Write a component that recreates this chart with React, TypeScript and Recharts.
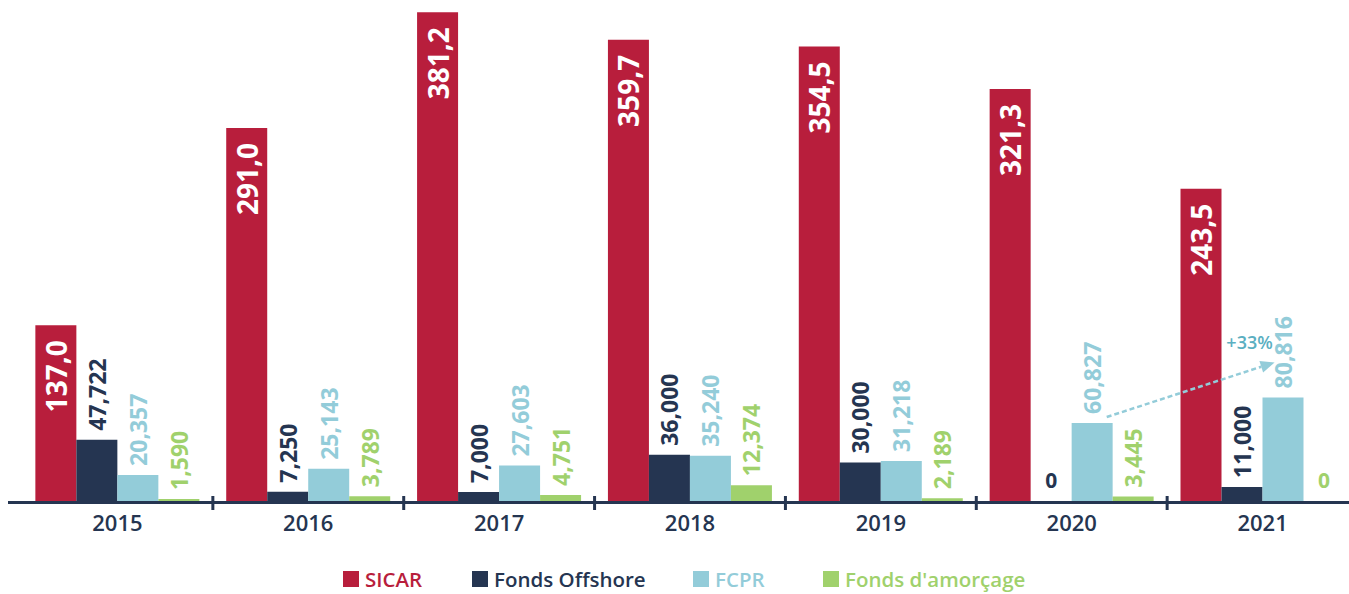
import React from 'react';
import { BarChart, Bar, XAxis, YAxis, LabelList, Legend, ReferenceLine } from 'recharts';

const years = ['2015', '2016', '2017', '2018', '2019', '2020', '2021'];
const sicar = [137.0, 291.0, 381.2, 359.7, 354.5, 321.3, 243.5];
const offshore = [47.722, 7.25, 7.0, 36.0, 30.0, 0, 11.0];
const fcpr = [20.357, 25.143, 27.603, 35.24, 31.218, 60.827, 80.816];
const amorcage = [1.59, 3.789, 4.751, 12.374, 2.189, 3.445, 0];
const seriesNames = ['SICAR', 'Fonds Offshore', 'FCPR', "Fonds d'amorçage"];
const growthLabel = '+33%';

const COLORS = ['#B81E3C', '#253551', '#93CCD9', '#A0D16C'];
const FONT = '"Open Sans", sans-serif';

const data = years.map((y, i) => ({
  year: y,
  sicar: sicar[i],
  offshore: offshore[i],
  fcpr: fcpr[i],
  amorcage: amorcage[i],
}));

const otherSeries = [offshore, fcpr, amorcage];

const CHART_W = 1358;
const MARGIN_LEFT = 8;
const PAD_LEFT = 14;
const BAND = (CHART_W - MARGIN_LEFT - PAD_LEFT) / years.length;

const fmt1 = (v: number) => v.toFixed(1).replace('.', ',');
const fmt3 = (v: number) => (v === 0 ? '0' : v.toFixed(3).replace('.', ','));

const ZeroText = ({ x, y, color }: { x: number; y: number; color: string }) => (
  <text x={x} y={y} textAnchor="middle" fill={color} fontFamily={FONT} fontWeight={700} fontSize={21}>
    0
  </text>
);

// SICAR label (inside, white) + zero-value labels of the other series in the same group
const InsideLabel = (props: any) => {
  const { x, y, width, height, value, index } = props;
  const w = Number(width);
  const cx = Number(x) + w / 2;
  const ty = Number(y) + 15;
  const base = Number(y) + Number(height);
  return (
    <g>
      <text
        x={cx}
        y={ty}
        transform={`rotate(-90, ${cx}, ${ty})`}
        textAnchor="end"
        dominantBaseline="central"
        fill="#ffffff"
        fontFamily={FONT}
        fontWeight={700}
        fontSize={28}
      >
        {fmt1(Number(value))}
      </text>
      {otherSeries.map((s, k) =>
        s[index] === 0 ? (
          <ZeroText key={k} x={Number(x) + w * (k + 1.5)} y={base - 13} color={COLORS[k + 1]} />
        ) : null
      )}
    </g>
  );
};

const makeTopLabel = (color: string) => (props: any) => {
  const { x, y, width, value } = props;
  const v = Number(value);
  const cx = Number(x) + Number(width) / 2;
  if (!v) return null;
  const ty = Number(y) - 9;
  return (
    <text
      x={cx}
      y={ty}
      transform={`rotate(-90, ${cx}, ${ty})`}
      textAnchor="start"
      dominantBaseline="central"
      fill={color}
      fontFamily={FONT}
      fontWeight={700}
      fontSize={23}
    >
      {fmt3(v)}
    </text>
  );
};

const YearTick = (props: any) => {
  const { x, y, payload, index } = props;
  const half = payload && payload.offset ? payload.offset : BAND / 2;
  return (
    <g>
      {index === 0 && (
        <line
          x1={x - half - PAD_LEFT}
          x2={x - half + BAND * years.length}
          y1={y + 1.5}
          y2={y + 1.5}
          stroke={COLORS[1]}
          strokeWidth={3}
        />
      )}
      {index > 0 && (
        <line x1={x - half} x2={x - half} y1={y - 5} y2={y + 9} stroke={COLORS[1]} strokeWidth={3} />
      )}
      <text
        x={x}
        y={y + 30}
        textAnchor="middle"
        fill={COLORS[1]}
        fontFamily={FONT}
        fontWeight={600}
        fontSize={22}
      >
        {payload.value}
      </text>
    </g>
  );
};

const GrowthArrow = (props: any) => {
  const { x1, y1, x2, y2 } = props;
  const sx = x1 + 35;
  const sy = y1 - 6;
  const tx = x2 + 12;
  const ty = y2 - 35;
  const ang = Math.atan2(ty - sy, tx - sx);
  const len = 14;
  const w = 6;
  const bx = tx - len * Math.cos(ang);
  const by = ty - len * Math.sin(ang);
  const px = -Math.sin(ang) * w;
  const py = Math.cos(ang) * w;
  return (
    <g>
      <line x1={sx} y1={sy} x2={bx} y2={by} stroke={COLORS[2]} strokeWidth={2.5} strokeDasharray="5 3" />
      <polygon points={`${tx},${ty} ${bx + px},${by + py} ${bx - px},${by - py}`} fill={COLORS[2]} />
      <text
        x={x2 - 13}
        y={y2 - 48}
        textAnchor="middle"
        fill="#5BAFC1"
        fontFamily={FONT}
        fontWeight={600}
        fontSize={18}
      >
        {growthLabel}
      </text>
    </g>
  );
};

const itemWidths = [129, 221, 130, 230];

const LegendContent = () => (
  <div style={{ display: 'flex', height: 26, alignItems: 'center', fontFamily: FONT }}>
    {seriesNames.map((n, i) => (
      <div key={n} style={{ display: 'flex', alignItems: 'center', width: itemWidths[i] }}>
        <span style={{ display: 'inline-block', width: 16, height: 16, background: COLORS[i], marginRight: 6, flexShrink: 0 }} />
        <span style={{ color: COLORS[i], fontSize: 20.5, fontWeight: 600, lineHeight: '26px', whiteSpace: 'nowrap' }}>{n}</span>
      </div>
    ))}
  </div>
);

export default function App() {
  return (
    <div style={{ position: 'absolute', left: 0, top: 0, width: 1349, height: 594, overflow: 'hidden', background: '#fff' }}>
      <BarChart
        width={CHART_W}
        height={594}
        data={data}
        margin={{ top: 1, right: 0, left: MARGIN_LEFT, bottom: 2 }}
        barCategoryGap="7%"
        barGap={0}
      >
        <XAxis
          dataKey="year"
          padding={{ left: PAD_LEFT, right: 0 }}
          axisLine={false}
          tickLine={false}
          tickSize={0}
          tickMargin={0}
          height={65}
          interval={0}
          tick={<YearTick />}
        />
        <YAxis hide domain={[0, 390]} allowDataOverflow tickCount={14} />
        <Bar dataKey="sicar" fill={COLORS[0]} isAnimationActive={false}>
          <LabelList dataKey="sicar" content={InsideLabel} />
        </Bar>
        <Bar dataKey="offshore" fill={COLORS[1]} isAnimationActive={false}>
          <LabelList dataKey="offshore" content={makeTopLabel(COLORS[1])} />
        </Bar>
        <Bar dataKey="fcpr" fill={COLORS[2]} isAnimationActive={false}>
          <LabelList dataKey="fcpr" content={makeTopLabel(COLORS[2])} />
        </Bar>
        <Bar dataKey="amorcage" fill={COLORS[3]} isAnimationActive={false}>
          <LabelList dataKey="amorcage" content={makeTopLabel(COLORS[3])} />
        </Bar>
        <ReferenceLine
          segment={[
            { x: years[5], y: fcpr[5] },
            { x: years[6], y: fcpr[6] },
          ]}
          ifOverflow="visible"
          shape={GrowthArrow}
        />
        <Legend
          verticalAlign="bottom"
          content={<LegendContent />}
          wrapperStyle={{ left: 343, bottom: 2, width: 760, height: 26 }}
        />
      </BarChart>
    </div>
  );
}
